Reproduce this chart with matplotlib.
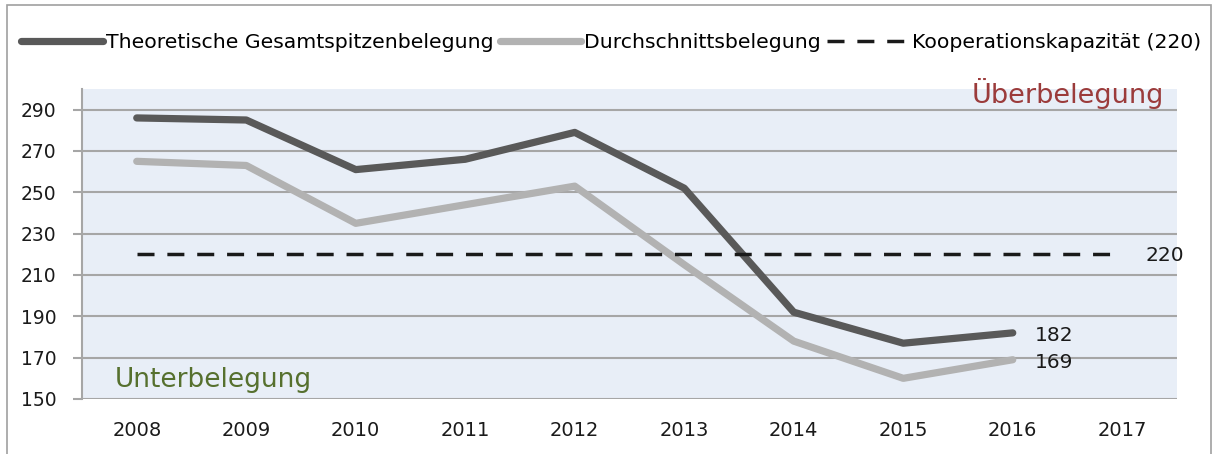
import numpy as np
import matplotlib
matplotlib.use('Agg')
from matplotlib import pyplot as plt
from matplotlib.patches import Rectangle

# data
years = ['2008', '2009', '2010', '2011', '2012', '2013', '2014', '2015', '2016', '2017']
spitze = [286, 285, 261, 266, 279, 252, 192, 177, 182]
schnitt = [265, 263, 235, 244, 253, 215, 178, 160, 169]
kapazitaet = 220
yticks = [150, 170, 190, 210, 230, 250, 270, 290]

fig = plt.figure(figsize=(12.2, 4.54), dpi=100)
ax = fig.add_axes([82/1220, 1-399/454, (1177-82)/1220, (399-89)/454])
ax.set_facecolor('#e8eef7')

x = np.arange(len(years))
ax.plot(x[:len(spitze)], spitze, color='#595959', lw=5.2, solid_capstyle='round',
        solid_joinstyle='round', label='Theoretische Gesamtspitzenbelegung', zorder=3)
ax.plot(x[:len(schnitt)], schnitt, color='#b2b2b2', lw=5.2, solid_capstyle='round',
        solid_joinstyle='round', label='Durchschnittsbelegung', zorder=3)
ax.plot(x, [kapazitaet]*len(x), color='#1a1a1a', lw=2.5, dashes=(4.9, 3.7),
        label='Kooperationskapazität (220)', zorder=3)

ax.set_xlim(-0.5, len(years) - 0.5)
ax.set_ylim(150, 300)
ax.set_yticks(yticks)
ax.set_xticks(x)
ax.set_xticklabels(years)
ax.grid(axis='y', color='#a6a6a6', lw=1.5)
ax.set_axisbelow(True)
for s in ['top', 'right', 'bottom']:
    ax.spines[s].set_visible(False)
ax.spines['left'].set_color('#a6a6a6')
ax.spines['left'].set_linewidth(1.5)
ax.tick_params(axis='y', length=6.5, width=1.5, color='#a6a6a6', labelsize=13.5, pad=12, labelcolor='#1a1a1a')
ax.tick_params(axis='x', length=0, labelsize=14, pad=16, labelcolor='#1a1a1a')

# end labels
ax.text(len(spitze) - 1 + 0.2, spitze[-1] - 1.5, str(spitze[-1]), fontsize=14.5,
        va='center', ha='left', color='#1a1a1a')
ax.text(len(schnitt) - 1 + 0.2, schnitt[-1] - 1.5, str(schnitt[-1]), fontsize=14.5,
        va='center', ha='left', color='#1a1a1a')
ax.text(len(years) - 1 + 0.21, kapazitaet - 0.5, str(kapazitaet), fontsize=14.5,
        va='center', ha='left', color='#1a1a1a')

ax.text(0.988, 0.985, 'Überbelegung', transform=ax.transAxes, fontsize=19.5,
        color='#9b3b3b', ha='right', va='center')
ax.text(0.03, 0.06, 'Unterbelegung', transform=ax.transAxes, fontsize=19,
        color='#56702e', ha='left', va='center')

fig.legend(loc='center', bbox_to_anchor=(0.501, 1-43/454), ncol=3, frameon=False,
           fontsize=14.7, handlelength=4.0, handletextpad=0.15, columnspacing=0.3,
           borderaxespad=0, borderpad=0)

fig.patches.append(Rectangle((7/1220, -0.05), (1211-7)/1220, 1.05-5/454,
                             transform=fig.transFigure, fill=False,
                             edgecolor='#a0a0a0', lw=1.2))

fig.savefig('out.png', dpi=100)
